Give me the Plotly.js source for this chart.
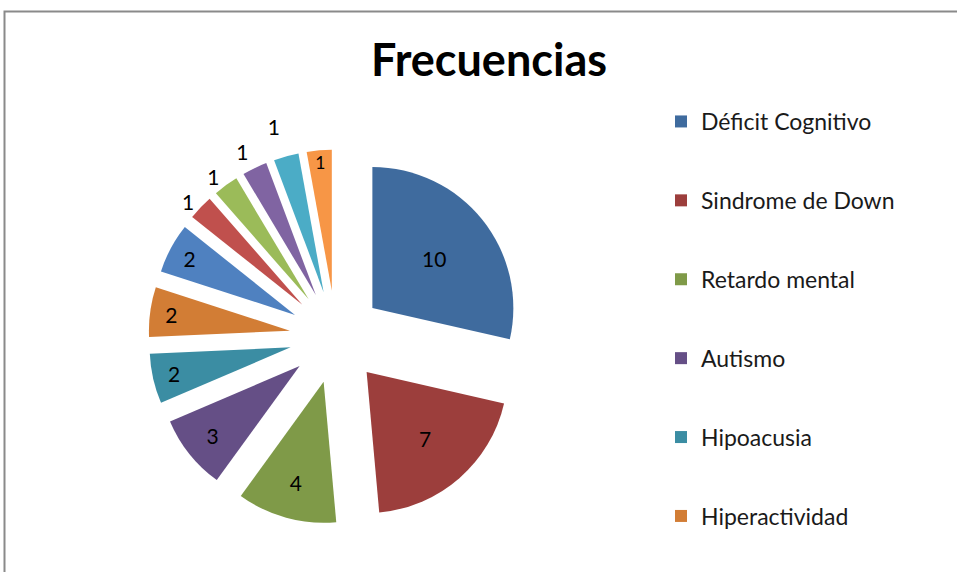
<!DOCTYPE html>
<html>
<head>
<meta charset="utf-8">
<script src="https://cdn.plot.ly/plotly-3.0.1.min.js"></script>
<style>
html,body{margin:0;padding:0;background:#fff;}
#chart{width:957px;height:572px;}
#chart path.textline{display:none !important;}
</style>
</head>
<body>
<div id="chart"></div>
<script>
// Data
var categories = ["Déficit Cognitivo", "Sindrome de Down", "Retardo mental", "Autismo", "Hipoacusia", "Hiperactividad",
                  "Categoría 7", "Categoría 8", "Categoría 9", "Categoría 10", "Categoría 11", "Categoría 12"];
var values = [10, 7, 4, 3, 2, 2, 2, 1, 1, 1, 1, 1];
var sliceColors = ["#3F6B9E", "#9C3E3C", "#7F9A48", "#654F86", "#3B8DA3", "#D27D35",
                   "#4F81C0", "#C0504D", "#9BBB59", "#8064A2", "#4BACC6", "#F79646"];
var labelPositions = ["inside", "inside", "inside", "inside", "inside", "inside",
                      "inside", "outside", "outside", "outside", "outside", "inside"];
var legendCount = 6; // only the first six categories appear in the legend
var titleText = "Frecuencias";

var FONT = "Lato, 'Open Sans', sans-serif";

var traces = [{
  type: "pie",
  labels: categories,
  values: values,
  sort: false,
  direction: "clockwise",
  rotation: 0,
  pull: values.map(function () { return 0.33; }),
  marker: { colors: sliceColors, line: { width: 0 } },
  textinfo: "value",
  textposition: labelPositions,
  insidetextorientation: "horizontal",
  textfont: { family: FONT, size: 21, color: "#000" },
  showlegend: false,
  hoverinfo: "label+value",
  domain: { x: [148.5 / 957, 523.5 / 957], y: [1 - 524.5 / 572, 1 - 149.5 / 572] }
}];

for (var i = 0; i < legendCount; i++) {
  traces.push({
    type: "scatter",
    mode: "markers",
    x: [null], y: [null],
    name: categories[i],
    legendgroup: "g" + i,
    marker: { symbol: "square", size: 12, color: sliceColors[i] },
    hoverinfo: "skip",
    showlegend: true
  });
}

var layout = {
  width: 957, height: 572,
  margin: { l: 0, r: 0, t: 0, b: 0 },
  paper_bgcolor: "#fff", plot_bgcolor: "#fff",
  font: { family: FONT, color: "#000" },
  title: {
    text: "<b>" + titleText + "</b>",
    font: { family: FONT, size: 45, color: "#000" },
    x: 489 / 957, xanchor: "center", xref: "paper",
    y: 1 - 60 / 572, yanchor: "middle", yref: "container"
  },
  xaxis: { visible: false, range: [0, 1] },
  yaxis: { visible: false, range: [0, 1] },
  showlegend: true,
  legend: {
    x: 661 / 957, xanchor: "left",
    y: 1 - 100 / 572, yanchor: "top",
    traceorder: "grouped",
    tracegroupgap: 46,
    font: { family: FONT, size: 23, color: "#1a1a1a" },
    bgcolor: "rgba(0,0,0,0)",
    itemclick: false, itemdoubleclick: false
  },
  shapes: [{
    type: "rect", xref: "paper", yref: "paper",
    x0: 4.5 / 957, x1: 1.05, y0: -0.05, y1: 1 - 11.5 / 572,
    line: { color: "#8A8A8A", width: 2 }, fillcolor: "rgba(0,0,0,0)", layer: "below"
  }]
};

Plotly.newPlot("chart", traces, layout, { displayModeBar: false, staticPlot: true });
</script>
</body>
</html>
